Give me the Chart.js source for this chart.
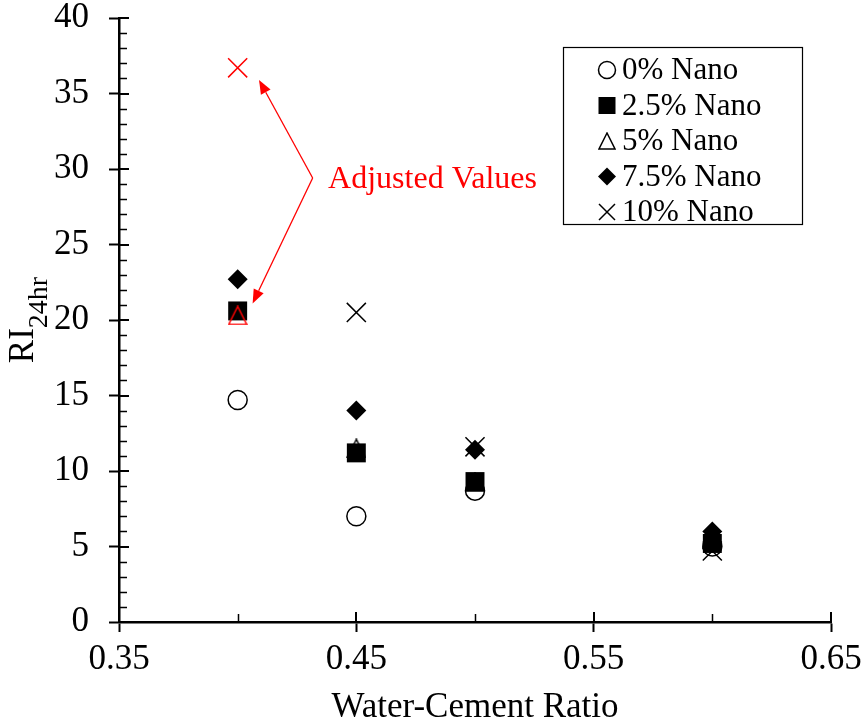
<!DOCTYPE html>
<html><head><meta charset="utf-8">
<script src="https://cdn.jsdelivr.net/npm/chart.js@4.4.1/dist/chart.umd.min.js"></script>
<style>html,body{margin:0;padding:0;background:#fff}canvas{display:block}</style>
</head><body>
<canvas id="c" width="864" height="725"></canvas>
<script>
// ---- data ----
const waterCementRatio = [0.40, 0.45, 0.50, 0.60];
const nano0  = [14.7, 7.0, 8.7, 5.0];
const nano25 = [20.6, 11.2, 9.3, 5.2];
const nano5  = [20.3, 11.5, 9.3, 5.5];
const nano75 = [22.7, 14.0, 11.4, 6.0];
const nano10 = [36.7, 20.5, 11.6, 4.7];
const seriesLabels = ['0% Nano', '2.5% Nano', '5% Nano', '7.5% Nano', '10% Nano'];
const xTickValues = [0.35, 0.45, 0.55, 0.65];
const xMinorValues = [0.40, 0.50, 0.60];
const yTickValues = [0, 5, 10, 15, 20, 25, 30, 35, 40];
const annotationText = 'Adjusted Values';
// which points were adjusted (drawn red)
const adjusted5  = [true, false, false, false];
const adjusted10 = [true, false, false, false];

// ---- styling ----
const FONT = "'Liberation Serif', 'Times New Roman', serif";
const RED = '#ff0000';
const annot = { text: {x: 0.4381, y: 29.3}, vertex: {x: 0.4316, y: 29.4}, tips: [{x: 0.4090, y: 35.9}, {x: 0.4063, y: 21.1}] };

function triangleImage(size, color, lw) {
  const c = document.createElement('canvas');
  c.width = size; c.height = size;
  const g = c.getContext('2d');
  g.strokeStyle = color; g.lineWidth = lw; g.lineJoin = 'miter';
  g.beginPath();
  g.moveTo(size / 2, 1);
  g.lineTo(1, size - 1);
  g.lineTo(size - 1, size - 1);
  g.closePath();
  g.stroke();
  return c;
}
const triBlack = triangleImage(20, '#000', 1.5);
const triRed = triangleImage(20, RED, 1.5);
const triLegend = triangleImage(18, '#000', 1.5);

function pts(ys) { return ys.map((y, i) => ({x: waterCementRatio[i], y: y})); }

const datasets = [
  {label: seriesLabels[0], data: pts(nano0), pointStyle: 'circle', pointRadius: 9.5,
   backgroundColor: '#fff', borderColor: '#000', pointBorderWidth: 1.5, order: 5},
  {label: seriesLabels[1], data: pts(nano25), pointStyle: 'rect', pointRadius: 13.4,
   backgroundColor: '#000', borderColor: '#000', pointBorderWidth: 0, order: 4},
  {label: seriesLabels[2], data: pts(nano5), pointStyle: adjusted5.map(a => a ? triRed : triBlack), pointRadius: 10,
   backgroundColor: 'rgba(0,0,0,0)', borderColor: '#000', pointBorderWidth: 1, order: 3},
  {label: seriesLabels[3], data: pts(nano75), pointStyle: 'rectRot', pointRadius: 10,
   backgroundColor: '#000', borderColor: '#000', pointBorderWidth: 0, order: 2},
  {label: seriesLabels[4], data: pts(nano10), pointStyle: 'crossRot', pointRadius: 13.5,
   backgroundColor: adjusted10.map(a => a ? RED : '#000'), borderColor: adjusted10.map(a => a ? RED : '#000'), pointBorderWidth: 1.5, order: 1}
];
datasets.forEach(d => { d.showLine = false; d.pointHoverRadius = d.pointRadius; });

const minorTicksPlugin = {
  id: 'minorTicks',
  afterDraw(chart) {
    const ctx = chart.ctx, ca = chart.chartArea;
    const xs = chart.scales.x, ys = chart.scales.y;
    ctx.save();
    ctx.strokeStyle = '#000';
    ctx.lineWidth = 2;
    ctx.beginPath();
    yTickValues.forEach(v => { const p = Math.round(ys.getPixelForValue(v)); ctx.moveTo(ca.left, p); ctx.lineTo(ca.left + 10, p); });
    xTickValues.forEach(v => { const p = Math.round(xs.getPixelForValue(v)); ctx.moveTo(p, ca.bottom); ctx.lineTo(p, ca.bottom - 10); });
    ctx.stroke();
    ctx.lineWidth = 1.5;
    ctx.beginPath();
    for (let v = 1; v < 40; v++) {
      if (v % 5 === 0) continue;
      const p = Math.round(ys.getPixelForValue(v)) + 0.5;
      ctx.moveTo(ca.left, p); ctx.lineTo(ca.left + 8, p);
    }
    xMinorValues.forEach(v => { const p = Math.round(xs.getPixelForValue(v)) + 0.5; ctx.moveTo(p, ca.bottom); ctx.lineTo(p, ca.bottom - 8); });
    ctx.stroke();
    ctx.restore();
  }
};

const yTitlePlugin = {
  id: 'yTitle',
  afterDraw(chart) {
    const ctx = chart.ctx, ca = chart.chartArea;
    ctx.save();
    const mainFont = '35px ' + FONT, subFont = '28px ' + FONT;
    ctx.font = mainFont; const w1 = ctx.measureText('RI').width;
    ctx.font = subFont; const w2 = ctx.measureText('24hr').width;
    const cy = (ca.top + ca.bottom) / 2;
    ctx.translate(33, cy);
    ctx.rotate(-Math.PI / 2);
    ctx.fillStyle = '#000';
    ctx.textBaseline = 'alphabetic';
    ctx.textAlign = 'left';
    const x0 = -(w1 + w2) / 2;
    ctx.font = mainFont; ctx.fillText('RI', x0, 0);
    ctx.font = subFont; ctx.fillText('24hr', x0 + w1, 14);
    ctx.restore();
  }
};

const annotationPlugin = {
  id: 'annot',
  afterDraw(chart) {
    const ctx = chart.ctx, xs = chart.scales.x, ys = chart.scales.y;
    const P = p => ({x: xs.getPixelForValue(p.x), y: ys.getPixelForValue(p.y)});
    const v = P(annot.vertex);
    ctx.save();
    ctx.strokeStyle = RED; ctx.fillStyle = RED; ctx.lineWidth = 1.3;
    annot.tips.forEach(t => {
      const tp = P(t);
      const ang = Math.atan2(tp.y - v.y, tp.x - v.x);
      const L = 14, W = 5.5;
      const bx = tp.x - Math.cos(ang) * L, by = tp.y - Math.sin(ang) * L;
      ctx.beginPath(); ctx.moveTo(v.x, v.y); ctx.lineTo(bx, by); ctx.stroke();
      ctx.beginPath();
      ctx.moveTo(tp.x, tp.y);
      ctx.lineTo(bx + Math.sin(ang) * W, by - Math.cos(ang) * W);
      ctx.lineTo(bx - Math.sin(ang) * W, by + Math.cos(ang) * W);
      ctx.closePath(); ctx.fill();
    });
    const tp = P(annot.text);
    ctx.font = '32px ' + FONT;
    ctx.textBaseline = 'middle'; ctx.textAlign = 'left';
    ctx.fillText(annotationText, tp.x, tp.y);
    ctx.restore();
  }
};

function drawLegendMarker(ctx, i, x, y) {
  ctx.save();
  ctx.strokeStyle = '#000'; ctx.fillStyle = '#000'; ctx.lineWidth = 1.5;
  ctx.beginPath();
  if (i === 0) { ctx.arc(x, y, 8.5, 0, Math.PI * 2); ctx.fillStyle = '#fff'; ctx.fill(); ctx.stroke(); }
  else if (i === 1) { ctx.fillRect(x - 8.5, y - 8.5, 17, 17); }
  else if (i === 2) { ctx.drawImage(triLegend, x - triLegend.width / 2, y - triLegend.height / 2); }
  else if (i === 3) { ctx.moveTo(x - 9, y); ctx.lineTo(x, y - 9); ctx.lineTo(x + 9, y); ctx.lineTo(x, y + 9); ctx.closePath(); ctx.fill(); }
  else { ctx.moveTo(x - 8, y - 8); ctx.lineTo(x + 8, y + 8); ctx.moveTo(x + 8, y - 8); ctx.lineTo(x - 8, y + 8); ctx.stroke(); }
  ctx.restore();
}

const legendPlugin = {
  id: 'boxLegend',
  afterDraw(chart) {
    const ctx = chart.ctx;
    const bx = 563, by = 47, bw = 239, bh = 177;
    ctx.save();
    ctx.fillStyle = '#fff'; ctx.fillRect(bx, by, bw, bh);
    ctx.strokeStyle = '#000'; ctx.lineWidth = 1.2;
    ctx.strokeRect(bx + 0.5, by + 0.5, bw, bh);
    ctx.font = '31px ' + FONT; ctx.fillStyle = '#000';
    ctx.textBaseline = 'middle'; ctx.textAlign = 'left';
    seriesLabels.forEach((lab, i) => {
      const y = 70 + i * 35.5;
      drawLegendMarker(ctx, i, 607, y);
      ctx.fillStyle = '#000';
      ctx.fillText(lab, 622, y + 1);
    });
    ctx.restore();
  }
};

function zeroPad(s) { s.paddingTop = 0; s.paddingBottom = 0; s.paddingLeft = 0; s.paddingRight = 0; }

new Chart(document.getElementById('c'), {
  type: 'scatter',
  data: {datasets},
  options: {
    responsive: false,
    animation: false,
    events: [],
    layout: {padding: {top: 18, right: 33, left: 0, bottom: 0}},
    plugins: {legend: {display: false}, tooltip: {enabled: false}},
    scales: {
      x: {
        type: 'linear', min: 0.35, max: 0.65,
        afterBuildTicks: s => { s.ticks = xTickValues.map(v => ({value: v})); },
        afterFit: s => { s.height = 103; zeroPad(s); },
        ticks: {color: '#000', font: {family: FONT, size: 35, lineHeight: 1}, padding: 10, maxRotation: 0,
                callback: v => Number(v).toFixed(2)},
        grid: {display: true, drawOnChartArea: false, drawTicks: true, tickLength: 10, tickWidth: 2, color: '#000'},
        border: {display: true, color: '#000', width: 2.5},
        title: {display: true, text: 'Water-Cement Ratio', color: '#000', font: {family: FONT, size: 35, lineHeight: 1}, padding: {top: 0, bottom: 0}}
      },
      y: {
        type: 'linear', min: 0, max: 40,
        afterBuildTicks: s => { s.ticks = yTickValues.map(v => ({value: v})); },
        afterFit: s => { s.width = 119; zeroPad(s); },
        ticks: {color: '#000', font: {family: FONT, size: 35, lineHeight: 1}, padding: 20},
        grid: {display: true, drawOnChartArea: false, drawTicks: true, tickLength: 10, tickWidth: 2, color: '#000'},
        border: {display: true, color: '#000', width: 2.5}
      }
    }
  },
  plugins: [minorTicksPlugin, yTitlePlugin, annotationPlugin, legendPlugin]
});
</script>
</body></html>
